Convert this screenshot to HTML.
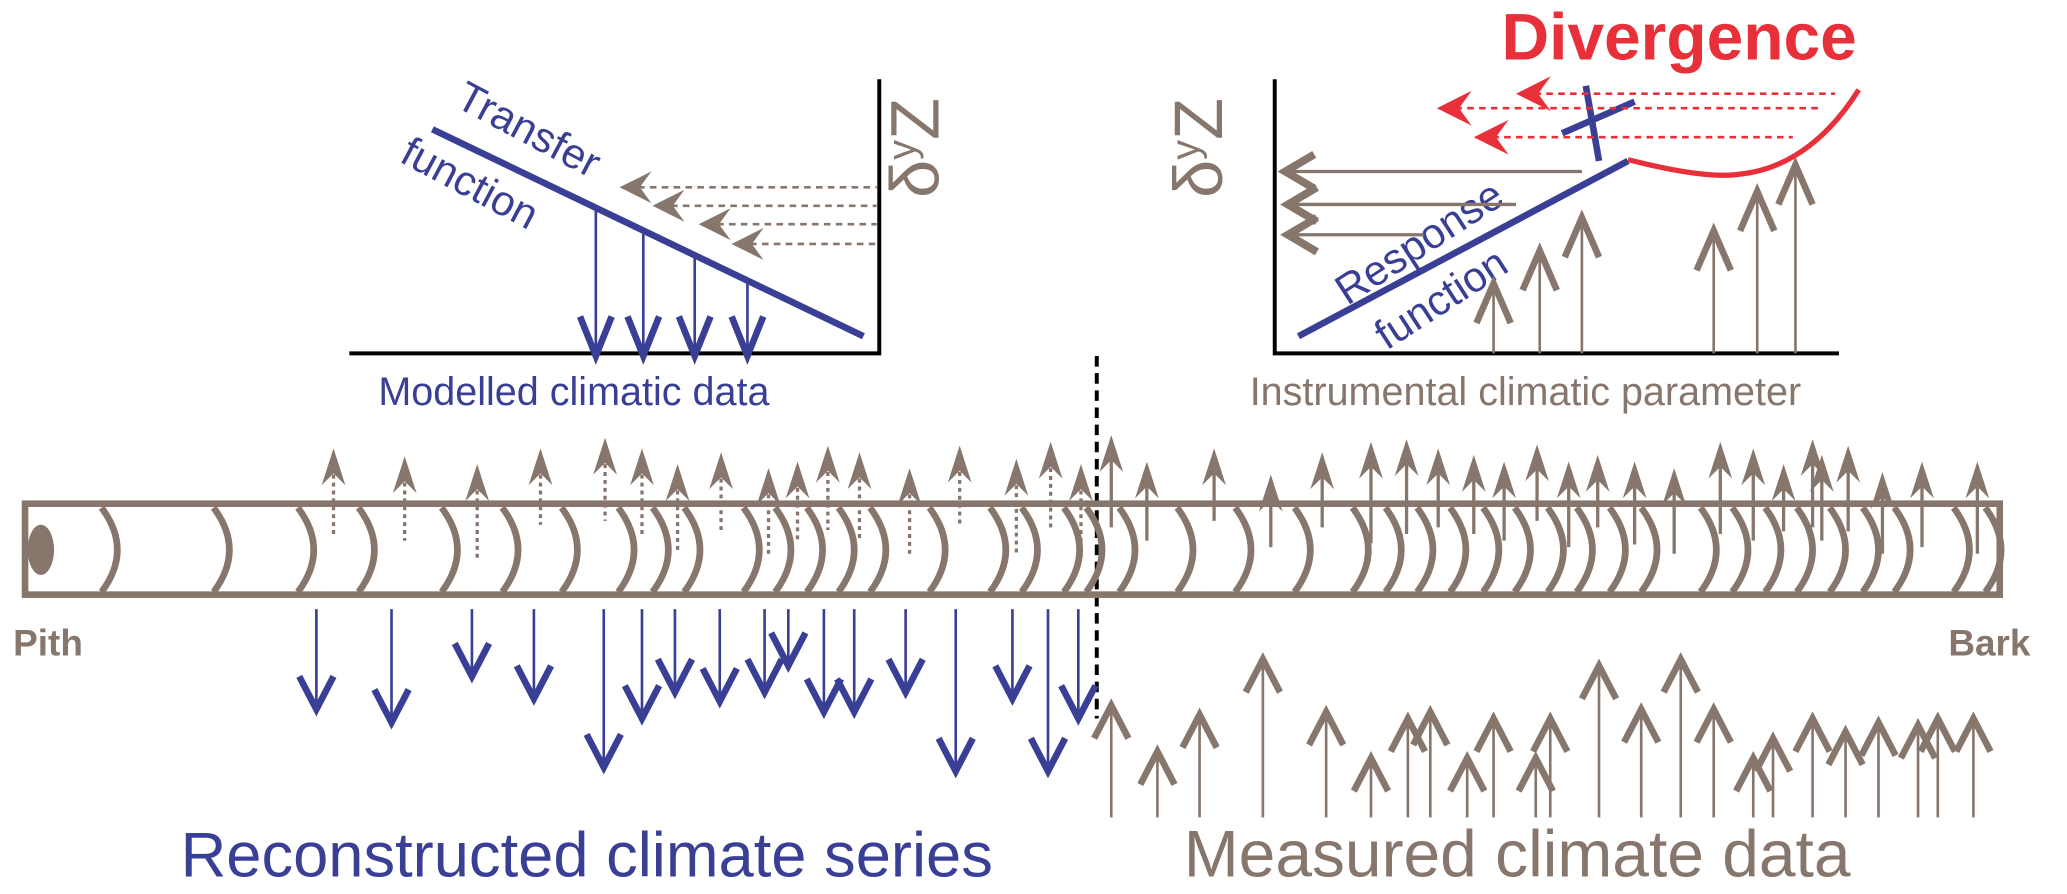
<!DOCTYPE html>
<html><head><meta charset="utf-8"><style>
html,body{margin:0;padding:0;background:#fff;width:2067px;height:894px;overflow:hidden}
svg{display:block}
text{font-family:"Liberation Sans",Arial,sans-serif}
</style></head><body>
<svg id="s" width="2067" height="894" viewBox="0 0 1568 678" xmlns="http://www.w3.org/2000/svg">
<g stroke="#000" stroke-width="3" fill="none">
<path d="M667,60 V268 H265"/>
<path d="M967,60 V268 H1395"/>
</g>
<line x1="328" y1="98" x2="655" y2="255" stroke="#3a3f96" stroke-width="5"/>
<text transform="translate(712,150) rotate(-90)" font-size="52" fill="#87766c">δ<tspan font-size="30" dy="-18">y</tspan><tspan dy="18">Z</tspan></text>
<text transform="translate(344,80) rotate(28)" font-size="32" fill="#3a3f96">Transfer</text>
<text transform="translate(302,122) rotate(28)" font-size="32" fill="#3a3f96">function</text>
<text x="287" y="307" font-size="30" fill="#3a3f96">Modelled climatic data</text>
<line x1="985" y1="255" x2="1235" y2="122" stroke="#3a3f96" stroke-width="5"/>
<path d="M1235,121 C1270,130 1300,135 1320,132 C1360,128 1390,100 1410,68" stroke="#e8303a" stroke-width="4" fill="none"/>
<text transform="translate(927,150) rotate(-90)" font-size="52" fill="#87766c">δ<tspan font-size="30" dy="-18">y</tspan><tspan dy="18">Z</tspan></text>
<text transform="translate(1022,232) rotate(-33)" font-size="32" fill="#3a3f96">Response</text>
<text transform="translate(1052,266) rotate(-33)" font-size="32" fill="#3a3f96">function</text>
<text x="1139" y="45" font-size="50" font-weight="bold" fill="#e8303a">Divergence</text>
<text x="948" y="307" font-size="30" fill="#87766c">Instrumental climatic parameter</text>
<g stroke="#3a3f96" stroke-width="5"><line x1="1203" y1="65" x2="1213" y2="122"/><line x1="1185" y1="101" x2="1240" y2="77"/></g>
<line x1="832" y1="270" x2="832" y2="545" stroke="#000" stroke-width="3" stroke-dasharray="8,5"/>
<rect x="19" y="382" width="1498" height="69" fill="none" stroke="#87766c" stroke-width="5"/>
<ellipse cx="31" cy="417" rx="10" ry="19" fill="#87766c"/>
<g id="g"></g>
<text x="10" y="497" font-size="28" font-weight="bold" fill="#87766c">Pith</text>
<text x="1478" y="497" font-size="28" font-weight="bold" fill="#87766c">Bark</text>
<text x="137" y="665" font-size="48" fill="#3a3f96">Reconstructed climate series</text>
<text x="898" y="665" font-size="50" fill="#87766c">Measured climate data</text>
</svg>
<script>
var NS="http://www.w3.org/2000/svg",g=document.getElementById("g"),B="#87766c",U="#3a3f96",R="#e8303a";
function el(t,a){var e=document.createElementNS(NS,t);for(var k in a)e.setAttribute(k,a[k]);g.appendChild(e);return e}
function line(x1,y1,x2,y2,c,w,d){var a={x1:x1,y1:y1,x2:x2,y2:y2,stroke:c,"stroke-width":w};if(d)a["stroke-dasharray"]=d;el("line",a)}
function vup(x,y,c,w,h){el("polyline",{points:(x-w)+","+(y+h)+" "+x+","+y+" "+(x+w)+","+(y+h),fill:"none",stroke:c,"stroke-width":5})}
function vdn(x,y,c,w,h){el("polyline",{points:(x-w)+","+(y-h)+" "+x+","+y+" "+(x+w)+","+(y-h),fill:"none",stroke:c,"stroke-width":5})}
function fup(x,y){el("polygon",{points:x+","+y+" "+(x+9)+","+(y+28)+" "+x+","+(y+19)+" "+(x-9)+","+(y+28),fill:B})}
function fleft(x,y,c,s){s=s||1;el("polygon",{points:x+","+y+" "+(x+22*s)+","+(y-11*s)+" "+(x+14*s)+","+y+" "+(x+22*s)+","+(y+11*s),fill:c})}
function vleft(x,y,c){el("polyline",{points:(x+22)+","+(y-13)+" "+x+","+y+" "+(x+22)+","+(y+13),fill:"none",stroke:c,"stroke-width":6})}
[77,162,226,272,335,381,426,469,495,519,564,588,612,636,660,705,751,775,807,824,849,893,937,982,1026,1051,1075,1100,1125,1149,1174,1196,1221,1245,1290,1314,1339,1363,1388,1413,1437,1482,1506].forEach(function(x){
el("path",{d:"M"+x+",385 Q"+(x+24)+",417 "+x+",449",fill:"none",stroke:B,"stroke-width":5})});
[[253,340,405],[307,346,410],[362,352,425],[410,340,398],[459,332,395],[487,340,408],[514,352,420],[547,343,402],[583,355,422],[605,350,412],[628,338,402],[652,343,410],[690,355,420],[728,338,398],[771,348,420],[797,335,400],[820,352,425]].forEach(function(a){
line(a[0],a[1]+20,a[0],a[2],B,2.5,"3,3");fup(a[0],a[1])});
[[843,330,400],[870,350,410],[921,340,395],[964,360,415],[1003,343,400],[1040,335,412],[1067,333,405],[1091,340,400],[1118,345,405],[1141,350,410],[1166,337,395],[1190,350,415],[1212,345,400],[1240,350,413],[1270,355,420],[1305,335,405],[1330,340,410],[1353,352,403],[1375,333,400],[1382,345,410],[1402,338,403],[1428,358,420],[1458,350,415],[1500,350,420]].forEach(function(a){
line(a[0],a[1]+10,a[0],a[2],B,2.5);fup(a[0],a[1])});
[[240,538],[297,548],[358,513],[405,530],[458,582],[487,545],[512,525],[546,532],[580,525],[598,505],[625,540],[648,540],[687,525],[725,585],[768,530],[795,585],[818,545]].forEach(function(a){
line(a[0],462,a[0],a[1],U,2);vdn(a[0],a[1],U,13,25)});
[[843,535],[878,570],[910,542],[958,500],[1006,540],[1040,575],[1068,545],[1085,540],[1113,575],[1133,545],[1165,575],[1176,545],[1213,505],[1245,538],[1275,500],[1300,538],[1330,575],[1345,560],[1375,545],[1400,555],[1425,548],[1455,550],[1470,545],[1497,545]].forEach(function(a){
line(a[0],a[1],a[0],620,B,2);vup(a[0],a[1],B,13,25)});
[[470,142],[495,156],[530,170],[555,185]].forEach(function(a){line(a[0]+14,a[1],665,a[1],B,2,"5,4");fleft(a[0],a[1],B,1.1)});
[[452,160],[488,176],[527,194],[567,213]].forEach(function(a){line(a[0],a[1],a[0],270,U,2);vdn(a[0],270,U,12,30)});
[[1150,71,1392],[1090,82,1380],[1118,104,1360]].forEach(function(a){line(a[0]+14,a[1],a[2],a[1],R,2,"5,4");fleft(a[0],a[1],R,1.2)});
[[975,130,1200],[977,155,1150],[977,178,1080]].forEach(function(a){line(a[0],a[1],a[2],a[1],B,2.5);vleft(a[0],a[1],B)});
[[1133,215],[1168,190],[1200,165],[1300,175],[1333,145],[1362,125]].forEach(function(a){line(a[0],a[1],a[0],268,B,2);vup(a[0],a[1],B,13,30)});
</script>
</body></html>
